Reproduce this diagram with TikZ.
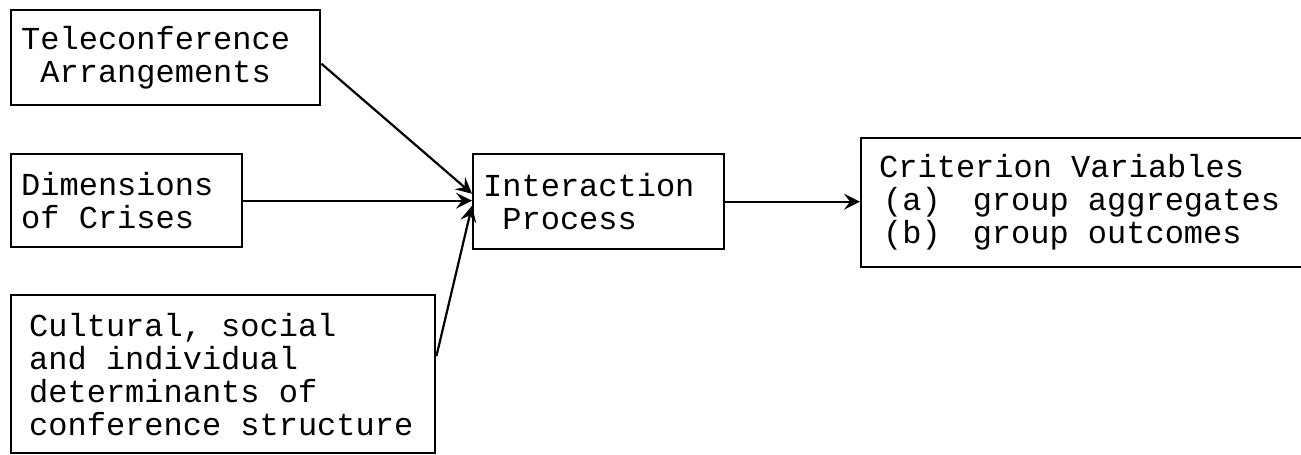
\documentclass[tikz,border=0pt]{standalone}
\usepackage{fontspec}
\newfontfamily\courfont{Liberation Mono}
\newcommand\myboxfont{\courfont\fontsize{16}{16.5}\selectfont}
\newcommand\monosp{\spaceskip=9.6pt\relax\xspaceskip=9.6pt\relax}
\usetikzlibrary{arrows.meta,calc}
\tikzset{
  box/.style={draw, line width=1.2pt, anchor=north west, align=left, inner ysep=0pt,
    font=\myboxfont},
  conn/.style={line width=1.1pt, -{Stealth[length=8pt,width=8pt,inset=3pt]}},
}
\begin{document}
\begin{tikzpicture}[x=0.5pt,y=-0.5pt]
\useasboundingbox (0,0) rectangle (1301,455);
\node[box, minimum width=154.5pt, minimum height=47.5pt, text width=144.5pt, inner xsep=5pt] (b1) at (10,9)
  {\monosp Teleconference\\\hspace*{9.6pt}Arrangements};
\node[box, minimum width=115.5pt, minimum height=46.5pt, text width=105.5pt, inner xsep=5pt] (b2) at (10,153)
  {\monosp Dimensions\\of Crises};
\node[box, minimum width=212pt, minimum height=79pt, text width=194pt, inner xsep=9pt] (b3) at (10,294)
  {\monosp Cultural, social\\and individual\\determinants of\\conference structure};
\node[box, minimum width=125.5pt, minimum height=47.5pt, text width=115.5pt, inner xsep=5pt] (ip) at (472,153)
  {\monosp Interaction\\\hspace*{9.6pt}Process};
\node[box, minimum width=222.5pt, minimum height=64.5pt, text width=204.5pt, inner xsep=9pt] (cv) at (860,137)
  {\monosp Criterion Variables\\\hspace*{2pt}(a)\hspace*{16pt}group aggregates\\\hspace*{2pt}(b)\hspace*{16pt}group outcomes};
\draw[conn] ([yshift=-3pt]b1.east) -- ([yshift=4pt]ip.west);
\draw[conn] (b2.east) -- (b2.east -| ip.west);
\draw[conn] ([yshift=9pt]b3.east) -- ([yshift=-2pt]ip.west);
\draw[conn] (ip.east) -- (ip.east -| cv.west);
\end{tikzpicture}
\end{document}
